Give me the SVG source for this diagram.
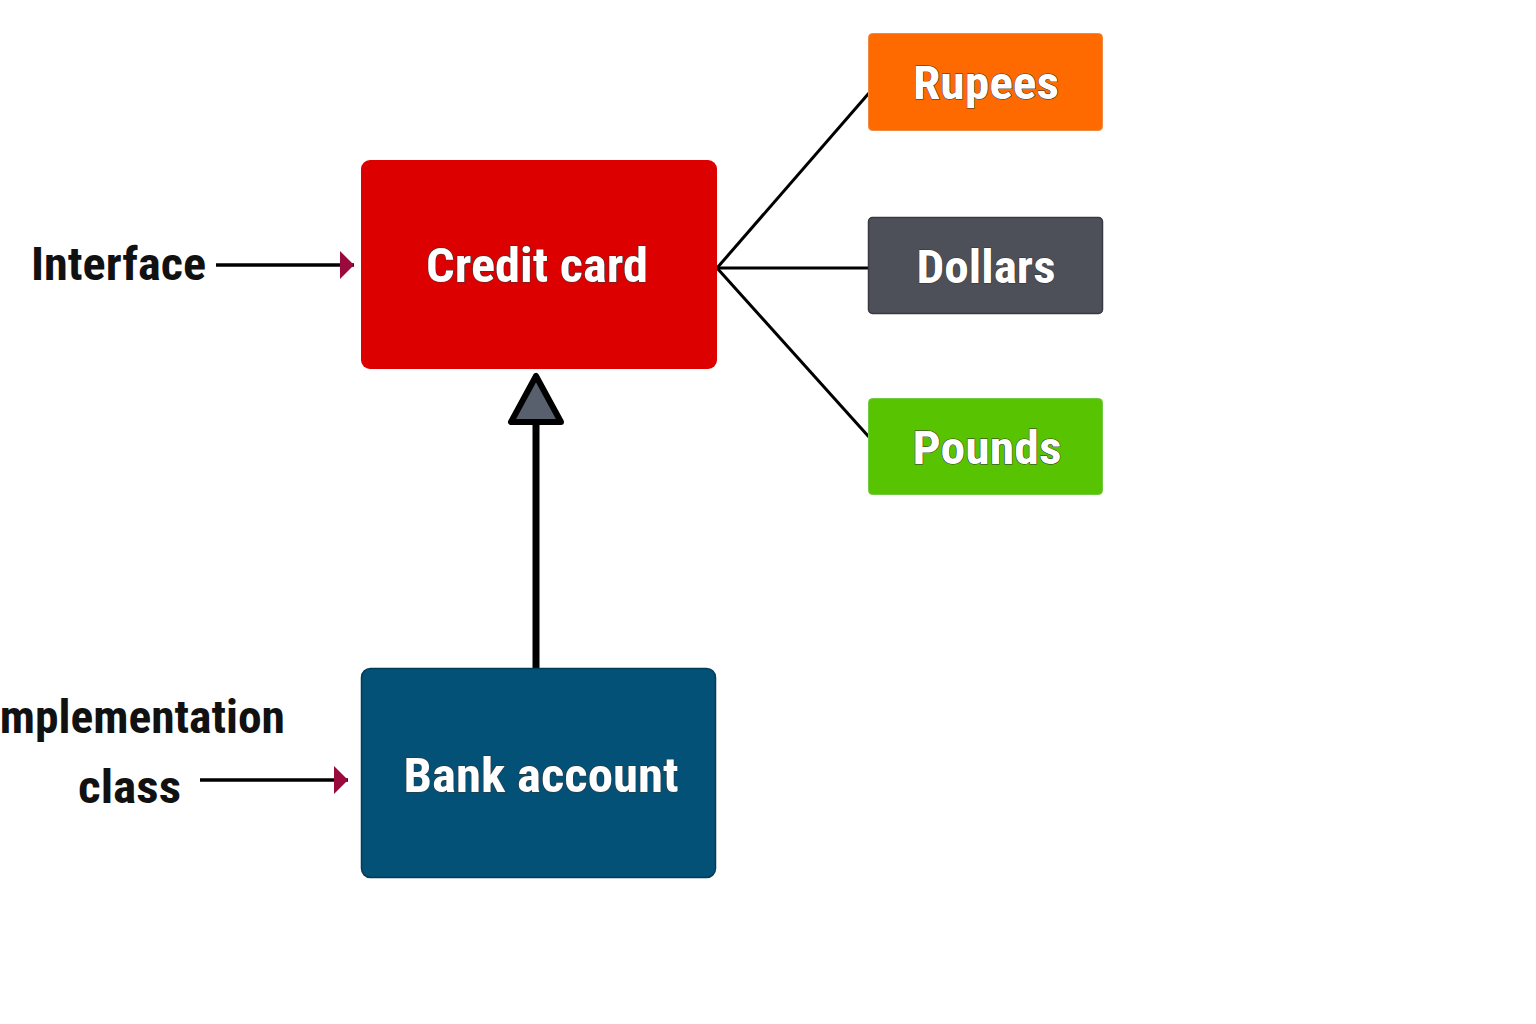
<svg xmlns="http://www.w3.org/2000/svg" width="1536" height="1024" viewBox="0 0 1536 1024">
<style>
.lbl{font-family:"Roboto Condensed","Liberation Sans Narrow",Roboto,"Liberation Sans",sans-serif;font-weight:bold;fill:#ffffff;stroke:#333333;stroke-width:1;paint-order:stroke;}
.side{font-family:"Roboto Condensed","Liberation Sans Narrow",Roboto,"Liberation Sans",sans-serif;font-weight:bold;fill:#111111;}
.conn{stroke:#000000;stroke-width:3;fill:none;}
.ptr{stroke:#000000;stroke-width:3.5;fill:none;}
</style>
<defs>
<marker id="redhead" viewBox="0 0 14 28" refX="14" refY="14" markerWidth="14" markerHeight="28" markerUnits="userSpaceOnUse" orient="auto">
<path d="M0,0 L14,14 L0,28 Z" fill="#9a0a3c"/>
</marker>
</defs>
<rect width="1536" height="1024" fill="#ffffff"/>
<g id="connectors">
<line class="conn" x1="717" y1="268" x2="869" y2="93"/>
<line class="conn" x1="717" y1="268" x2="869" y2="268"/>
<line class="conn" x1="717" y1="268" x2="869" y2="437"/>
<line x1="536" y1="668" x2="536" y2="424" stroke="#000000" stroke-width="7"/>
<path d="M536,376 L511,422 L561,422 Z" fill="#57606c" stroke="#000000" stroke-width="6" stroke-linejoin="round"/>
<line class="ptr" x1="216" y1="265" x2="354" y2="265" marker-end="url(#redhead)"/>
<line class="ptr" x1="200" y1="780" x2="348" y2="780" marker-end="url(#redhead)"/>
</g>
<g id="credit-card">
<rect x="361" y="160" width="356" height="209" rx="9" fill="#dc0000"/>
<text class="lbl" x="537" y="282" font-size="48" text-anchor="middle" textLength="222" lengthAdjust="spacingAndGlyphs">Credit card</text>
</g>
<g id="bank-account">
<rect x="361.5" y="668.5" width="354" height="209" rx="9" fill="#035177" stroke="#023c5a" stroke-width="1.5"/>
<text class="lbl" x="541" y="792" font-size="48" text-anchor="middle" textLength="275" lengthAdjust="spacingAndGlyphs">Bank account</text>
</g>
<g id="rupees">
<rect x="868.5" y="33.5" width="234" height="97" rx="4" fill="#ff6a00" stroke="#f08a40" stroke-width="1"/>
<text class="lbl" x="986" y="99" font-size="46" text-anchor="middle" textLength="146" lengthAdjust="spacingAndGlyphs">Rupees</text>
</g>
<g id="dollars">
<rect x="868.5" y="217.5" width="234" height="96" rx="4" fill="#4d5058" stroke="#383a40" stroke-width="1.5"/>
<text class="lbl" x="986" y="283" font-size="46" text-anchor="middle" textLength="139" lengthAdjust="spacingAndGlyphs">Dollars</text>
</g>
<g id="pounds">
<rect x="868.5" y="398.5" width="234" height="96" rx="4" fill="#58c300" stroke="#70cc40" stroke-width="1"/>
<text class="lbl" x="987" y="464" font-size="46" text-anchor="middle" textLength="149" lengthAdjust="spacingAndGlyphs">Pounds</text>
</g>
<g id="interface-label">
<text class="side" x="31" y="280" font-size="46" textLength="175" lengthAdjust="spacingAndGlyphs">Interface</text>
</g>
<g id="implementation-label">
<text class="side" x="285" y="733" font-size="46" text-anchor="end" textLength="298" lengthAdjust="spacingAndGlyphs">Implementation</text>
<text class="side" x="78" y="803" font-size="46" textLength="103" lengthAdjust="spacingAndGlyphs">class</text>
</g>
</svg>
